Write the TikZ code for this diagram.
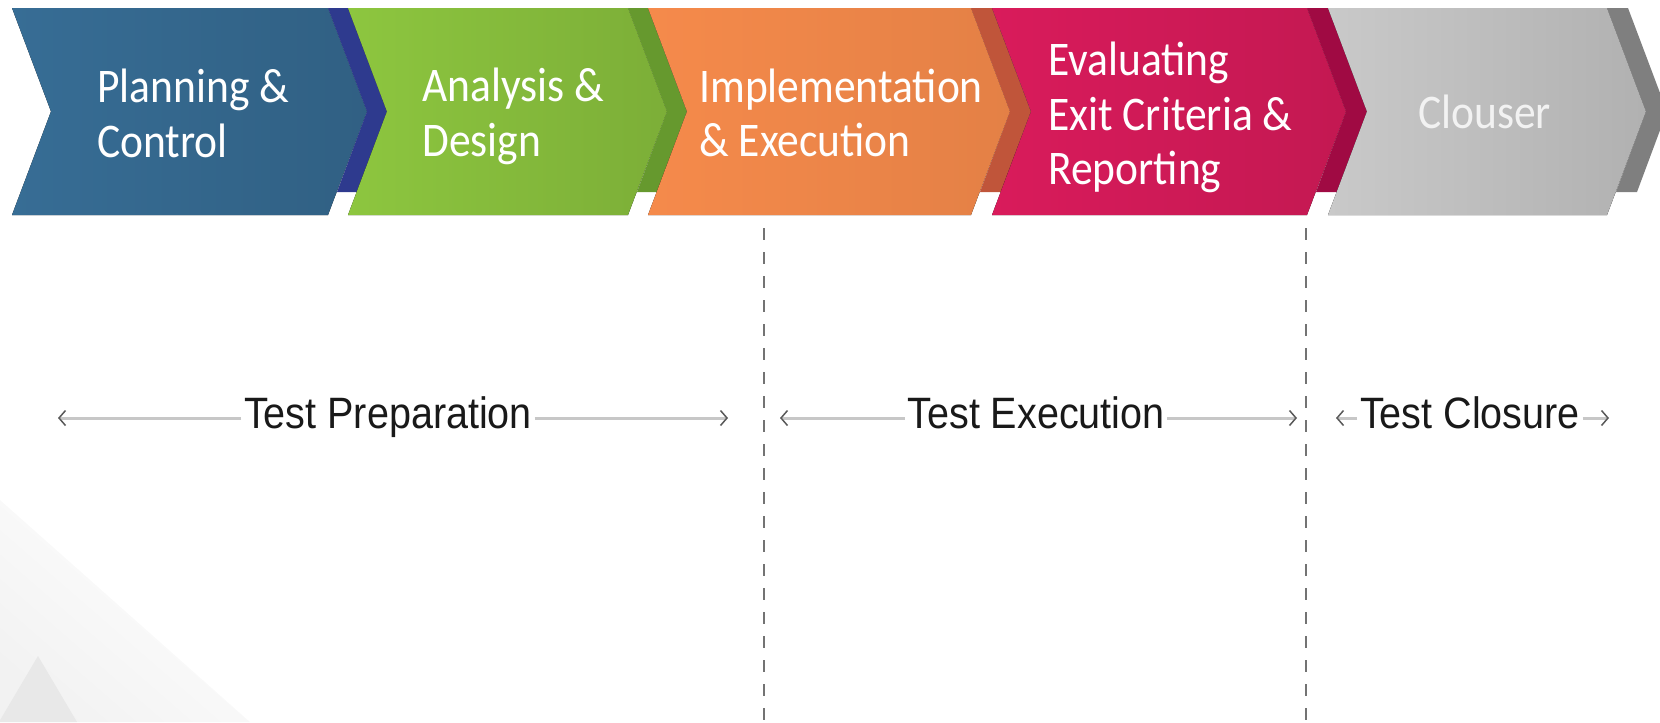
\documentclass[tikz,border=0pt]{standalone}
\usepackage{fontspec}
\setmainfont{Carlito}
\newfontfamily\labelfont{Liberation Sans}
\usetikzlibrary{arrows.meta}
\definecolor{planblue}{HTML}{376D95}
\definecolor{planband}{HTML}{2E3A8E}
\definecolor{designgreen}{HTML}{8DC63F}
\definecolor{designband}{HTML}{66992E}
\definecolor{implorange}{HTML}{F58A4B}
\definecolor{implband}{HTML}{C0553A}
\definecolor{evalpink}{HTML}{D91B5B}
\definecolor{evalband}{HTML}{A00A43}
\definecolor{closegrey}{HTML}{C9C9C9}
\definecolor{closeband}{HTML}{7F7F7F}

\begin{document}
\begin{tikzpicture}[x=0.2mm, y=-0.2mm,
    stage/.style={white, anchor=west, inner sep=0pt, align=left, xscale=0.9,
      font=\fontsize{27.5}{31}\selectfont},
    phase/.style={anchor=base, inner xsep=1.5pt, inner ysep=0pt, xscale=0.9,
      text=black!90, font=\labelfont\fontsize{25}{30}\selectfont},
    span/.style={line width=0.6mm, draw=black!22,
      -{Straight Barb[length=1.3mm, width=3mm, line width=0.3mm, color=black!65]}},
    cut/.style={line width=0.4mm, draw=black!55, dash pattern=on 2.4mm off 2.4mm}]

    \useasboundingbox (0,0) rectangle (1660,722);
    \clip (0,0) rectangle (1660,722);

    % Hintergrund
    \shade[shading=axis, bottom color=black!5, top color=white, shading angle=-41]
      (0,500) -- (250,722) -- (0,722) -- cycle;
    \fill[black!9] (38,656) -- (77,722) -- (-1,722) -- cycle;

    % Pfeilkette
    \fill[left color=planblue, right color=planblue!88!black]
      (12,8) -- (328,8) -- (367,111.5) -- (328,215) -- (12,215) -- (51,111.5) -- cycle;
    \fill[planband] (328,8) -- (348,8) -- (387,111.5) -- (357,192) -- (337,192) -- (367,111.5) -- cycle;
    \fill[left color=designgreen, right color=designgreen!88!black]
      (348,8) -- (628,8) -- (667,111.5) -- (628,215) -- (348,215) -- (387,111.5) -- cycle;
    \fill[designband] (628,8) -- (648,8) -- (687,111.5) -- (657,192) -- (637,192) -- (667,111.5) -- cycle;
    \fill[left color=implorange, right color=implorange!93!black]
      (648,8) -- (971,8) -- (1010,111.5) -- (971,215) -- (648,215) -- (687,111.5) -- cycle;
    \fill[implband] (971,8) -- (992,8) -- (1031,111.5) -- (1001,192) -- (980,192) -- (1010,111.5) -- cycle;
    \fill[left color=evalpink, right color=evalpink!90!black]
      (992,8) -- (1307,8) -- (1346,111.5) -- (1307,215) -- (992,215) -- (1031,111.5) -- cycle;
    \fill[evalband] (1307,8) -- (1328,8) -- (1367,111.5) -- (1337,192) -- (1316,192) -- (1346,111.5) -- cycle;
    \fill[left color=closegrey, right color=closegrey!88!black]
      (1328,8) -- (1607,8) -- (1646,111.5) -- (1607,215) -- (1328,215) -- (1367,111.5) -- cycle;
    \fill[closeband] (1607,8) -- (1628,8) -- (1667,111.5) -- (1637,192) -- (1616,192) -- (1646,111.5) -- cycle;

    % Beschriftung
    \node[stage] (plan) at (97,113.5) {Planning \&\\Control};
    \node[stage] (design) at (422,116.5) {Analysis \&\\Design};
    \node[stage] (impl) at (699,113) {Implementation\\\& Execution};
    \node[stage] (eval) at (1048,117.5) {Evaluating\\Exit Criteria \&\\Reporting};
    \node[stage, text=white!95!black] (close) at (1418,112) {Clouser};

    % Trennlinien
    \coordinate (cutA) at (764,228);
    \coordinate (cutAend) at (764,722);
    \coordinate (cutB) at (1306,228);
    \coordinate (cutBend) at (1306,722);
    \draw[cut] (cutA) -- (cutAend);
    \draw[cut] (cutB) -- (cutBend);

    % Phasen
    \node[phase] (prep) at (388,428) {Test Preparation};
    \node[phase] (exec) at (1036,428) {Test Execution};
    \node[phase] (closure) at (1470,428) {Test Closure};
    \coordinate (prepL) at (58,418);
    \coordinate (prepR) at (728,418);
    \coordinate (execL) at (780,418);
    \coordinate (execR) at (1297,418);
    \coordinate (closL) at (1336,418);
    \coordinate (closR) at (1609,418);

    % Pfeile
    \draw[span] (prep.west |- prepL) -- (prepL);
    \draw[span] (prep.east |- prepR) -- (prepR);
    \draw[span] (exec.west |- execL) -- (execL);
    \draw[span] (exec.east |- execR) -- (execR);
    \draw[span] (closure.west |- closL) -- (closL);
    \draw[span] (closure.east |- closR) -- (closR);
  \end{tikzpicture}
\end{document}
